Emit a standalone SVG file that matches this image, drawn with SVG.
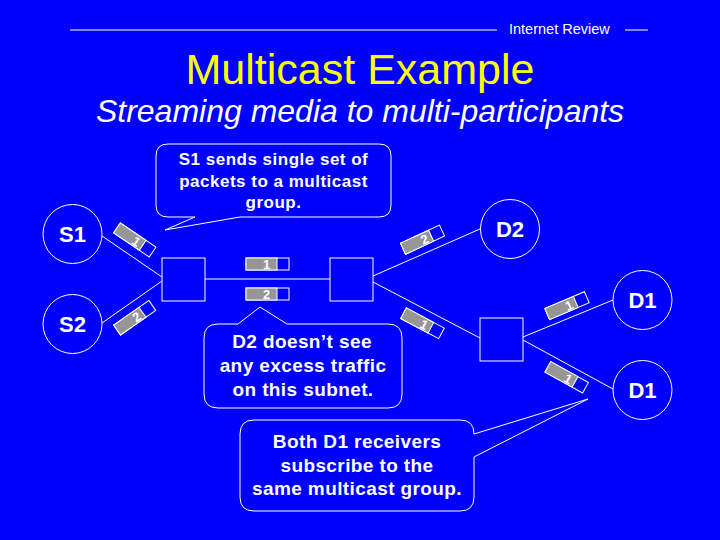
<svg xmlns="http://www.w3.org/2000/svg" width="720" height="540" viewBox="0 0 720 540">
<style>
.bg{fill:#0000FF}
.ln{stroke:#FFFFFF;stroke-width:1;fill:none}
.node{fill:none;stroke:#FFFFFF;stroke-width:1}
.nt{font-family:"Liberation Sans",Arial,sans-serif;font-weight:bold;font-size:22px;fill:#FFFFFF;text-anchor:middle}
.pk{fill:none;stroke:#FFFFFF;stroke-width:1}
.pg{fill:#969696;stroke:#FFFFFF;stroke-width:1}
.pt{font-family:"Liberation Sans",Arial,sans-serif;font-weight:bold;font-size:13px;fill:#FFFFFF;text-anchor:middle}
.co{fill:#0000FF;stroke:#FFFFFF;stroke-width:1}
.ct1{font-family:"Liberation Sans",Arial,sans-serif;font-weight:bold;font-size:17px;letter-spacing:0.5px;fill:#FFFFFF;text-anchor:middle}
.ct2{font-family:"Liberation Sans",Arial,sans-serif;font-weight:bold;font-size:19px;letter-spacing:0.4px;fill:#FFFFFF;text-anchor:middle}
</style>
<defs>
<g id="pkt">
<rect class="pk" x="-21.5" y="-6" width="43" height="12"/>
<rect class="pg" x="-21.5" y="-6" width="31" height="12"/>
</g>
</defs>
<rect class="bg" x="0" y="0" width="720" height="540"/>
<g id="header">
<line class="ln" x1="70" y1="30" x2="497" y2="30"/>
<text x="509" y="34" font-family="'Liberation Sans',Arial,sans-serif" font-size="14.5" fill="#FFFFFF">Internet Review</text>
<line class="ln" x1="625" y1="30" x2="648" y2="30"/>
</g>
<text x="360" y="84" font-family="'Liberation Sans',Arial,sans-serif" font-size="43" fill="#FFFF00" text-anchor="middle">Multicast Example</text>
<text x="360" y="122" font-family="'Liberation Sans',Arial,sans-serif" font-size="32" font-style="italic" fill="#FFFFFF" text-anchor="middle">Streaming media to multi-participants</text>

<g id="connectors">
<line class="ln" x1="102" y1="236" x2="162" y2="277"/>
<line class="ln" x1="102" y1="323" x2="162" y2="281"/>
<line class="ln" x1="205" y1="279" x2="330" y2="279"/>
<line class="ln" x1="373" y1="276" x2="480" y2="229"/>
<line class="ln" x1="373" y1="282" x2="480" y2="338"/>
<line class="ln" x1="523" y1="337" x2="613" y2="300"/>
<line class="ln" x1="523" y1="340" x2="613" y2="389"/>
</g>

<g id="S1"><circle class="node" cx="72.5" cy="234" r="29.5"/><text class="nt" x="72.5" y="242">S1</text></g>
<g id="S2"><circle class="node" cx="72.5" cy="324" r="29.5"/><text class="nt" x="72.5" y="332">S2</text></g>
<g id="D2"><circle class="node" cx="510" cy="229" r="29.5"/><text class="nt" x="510" y="237">D2</text></g>
<g id="D1a"><circle class="node" cx="642.5" cy="300" r="29.5"/><text class="nt" x="642.5" y="308">D1</text></g>
<g id="D1b"><circle class="node" cx="642.5" cy="390" r="29.5"/><text class="nt" x="642.5" y="398">D1</text></g>
<g id="R1"><rect class="node" x="162" y="258" width="43" height="43"/></g>
<g id="R2"><rect class="node" x="330" y="258" width="43" height="43"/></g>
<g id="R3"><rect class="node" x="480" y="318" width="43" height="43"/></g>

<g id="packets">
<g transform="translate(134.8,240) rotate(34)"><use href="#pkt"/><text class="pt" x="2" y="5">1</text></g>
<g transform="translate(134.7,317.7) rotate(-35)"><use href="#pkt"/><text class="pt" x="2" y="5">2</text></g>
<g transform="translate(267.5,264)"><use href="#pkt"/><text class="pt" x="-1" y="5">1</text></g>
<g transform="translate(267.5,294)"><use href="#pkt"/><text class="pt" x="-1" y="5">2</text></g>
<g transform="translate(422.5,239.7) rotate(-25)"><use href="#pkt"/><text class="pt" x="2" y="5">2</text></g>
<g transform="translate(422.5,323.3) rotate(28)"><use href="#pkt"/><text class="pt" x="2" y="5">1</text></g>
<g transform="translate(567,305.7) rotate(-23)"><use href="#pkt"/><text class="pt" x="2" y="5">1</text></g>
<g transform="translate(566.7,377.3) rotate(29)"><use href="#pkt"/><text class="pt" x="2" y="5">1</text></g>
</g>

<g id="callout1">
<path class="co" d="M168,144 H379 Q391,144 391,156 V205 Q391,217 379,217 H240 L165,230 L195,217 H168 Q156,217 156,205 V156 Q156,144 168,144 Z"/>
<text class="ct1" x="273.5" y="165">S1 sends single set of</text>
<text class="ct1" x="273.5" y="187">packets to a multicast</text>
<text class="ct1" x="273.5" y="208">group.</text>
</g>
<g id="callout2">
<path class="co" d="M218,324 H238 L260,307 L287,324 H388 Q402,324 402,338 V394 Q402,408 388,408 H218 Q204,408 204,394 V338 Q204,324 218,324 Z"/>
<text class="ct2" x="302" y="348">D2 doesn’t see</text>
<text class="ct2" x="303" y="372">any excess traffic</text>
<text class="ct2" x="303" y="396">on this subnet.</text>
</g>
<g id="callout3">
<path class="co" d="M254,420 H460 Q474,420 474,434 L588,399 L474,457 V497 Q474,511 460,511 H254 Q240,511 240,497 V434 Q240,420 254,420 Z"/>
<text class="ct2" x="357" y="448">Both D1 receivers</text>
<text class="ct2" x="357" y="472">subscribe to the</text>
<text class="ct2" x="357" y="495">same multicast group.</text>
</g>
</svg>
